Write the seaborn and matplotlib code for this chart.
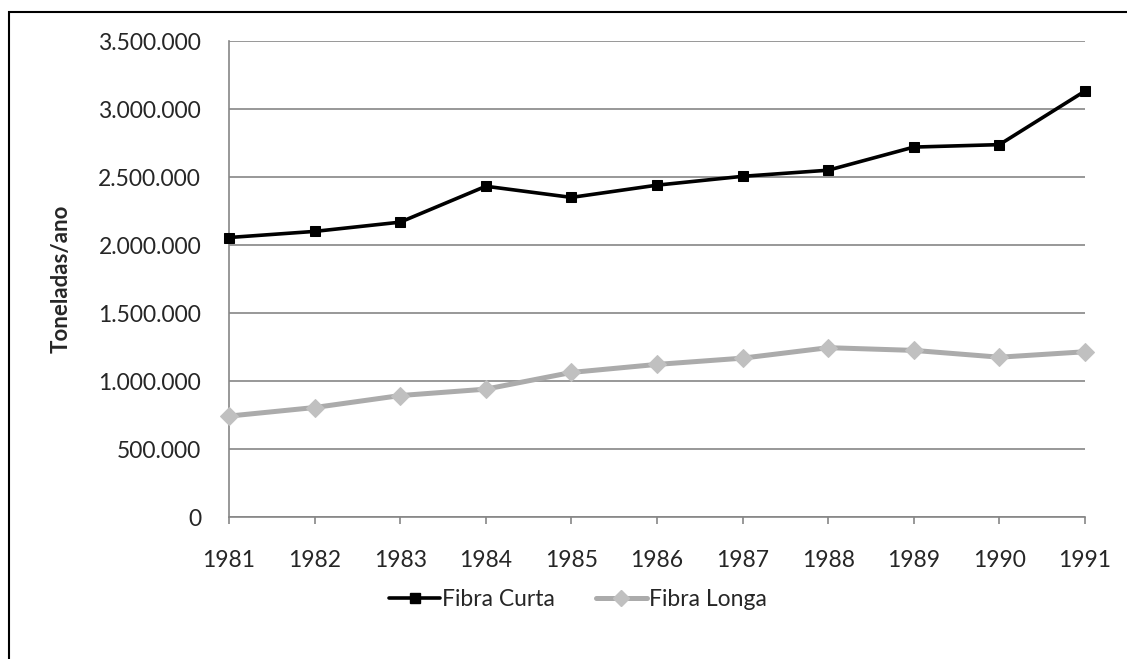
import numpy as np
import pandas as pd
import matplotlib
matplotlib.use('Agg')
import matplotlib.pyplot as plt
import seaborn as sns
from matplotlib.ticker import FuncFormatter
from matplotlib.lines import Line2D

# Dados (toneladas/ano)
anos = [1981, 1982, 1983, 1984, 1985, 1986, 1987, 1988, 1989, 1990, 1991]
fibra_curta = [2055000, 2100000, 2168000, 2432000, 2350000, 2440000,
               2505000, 2550000, 2720000, 2738000, 3132000]
fibra_longa = [742000, 805000, 893000, 940000, 1063000, 1122000,
               1168000, 1245000, 1225000, 1175000, 1215000]
series = ["Fibra Curta", "Fibra Longa"]

df = pd.DataFrame({
    "Ano": anos * 2,
    "Valor": fibra_curta + fibra_longa,
    "Serie": [series[0]] * len(anos) + [series[1]] * len(anos),
})

sns.set_theme(style="white")
plt.rcParams['font.family'] = ['Lato', 'DejaVu Sans']

fig = plt.figure(figsize=(11.27, 6.59), dpi=100)
ax = fig.add_axes([229 / 1127, 1 - 517 / 659, (1085 - 229) / 1127, (517 - 41) / 659])

# moldura externa
fig.patches.append(plt.Rectangle((9 / 1127, -0.05), 1.2, 1 - 12 / 659 + 0.05,
                                 transform=fig.transFigure, fill=False,
                                 edgecolor='black', linewidth=1.5))

palette = {"Fibra Curta": "#000000", "Fibra Longa": "#ABABAB"}
sns.lineplot(data=df, x="Ano", y="Valor", hue="Serie", style="Serie",
             markers={"Fibra Curta": "s", "Fibra Longa": "D"}, dashes=False,
             palette=palette, linewidth=3, ax=ax, legend=False, zorder=3)

for line, mfc, ms, lw in zip(ax.lines, ["#000000", "#C0C0C0"], [7, 9.5], [2.6, 3.6]):
    line.set_markerfacecolor(mfc)
    line.set_markeredgecolor(mfc)
    line.set_markersize(ms)
    line.set_linewidth(lw)
    line.set_clip_on(False)

ax.set_xlim(1981, 1991)
ax.set_ylim(0, 3500000)
ax.set_xticks(anos)
ax.set_yticks(np.arange(0, 3500001, 500000))
ax.yaxis.set_major_formatter(FuncFormatter(lambda v, p: f"{int(v):,}".replace(",", ".")))
ax.grid(axis='y', color='#868686', linewidth=1.2)
ax.set_axisbelow(True)

for s in ['top', 'right']:
    ax.spines[s].set_visible(False)
for s in ['left', 'bottom']:
    ax.spines[s].set_color('#868686')
    ax.spines[s].set_linewidth(1.2)

ax.tick_params(axis='x', direction='out', length=5, color='#868686', width=1.2,
               labelsize=16.5, pad=19, bottom=True)
ax.tick_params(axis='y', length=0, labelsize=16.5, pad=20)
ax.set_xlabel("")
ax.set_ylabel("Toneladas/ano", fontsize=16, fontweight='bold', labelpad=19)

# legenda
handles = [Line2D([], [], color="#000000", marker="s", markersize=6.5, linewidth=2.6),
           Line2D([], [], color="#ABABAB", marker="D", markersize=8, linewidth=3.6,
                  markerfacecolor="#C0C0C0", markeredgecolor="#C0C0C0")]
fig.legend(handles, series, loc='center', bbox_to_anchor=(578 / 1127, 1 - 600 / 659),
           ncol=2, frameon=False, fontsize=16.5, handlelength=2.2, handletextpad=0.1,
           columnspacing=1.8)

fig.savefig("out.png", dpi=100)
